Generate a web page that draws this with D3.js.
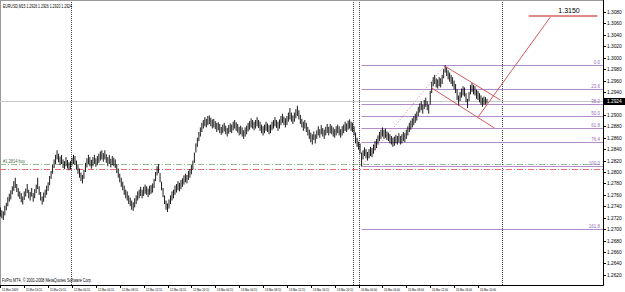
<!DOCTYPE html>
<html>
<head>
<meta charset="utf-8">
<script src="https://cdn.jsdelivr.net/npm/d3@7"></script>
<style>
  body { margin: 0; background: #fff; }
  svg { display: block; font-family: "Liberation Sans", Arial, sans-serif; }
</style>
</head>
<body>
<div id="chart"></div>
<script>
// EURUSD M15 bars, prices in points (1.2924 -> 12924), one array per trading day
const hiMar11 = [12738,12733,12731,12741,12746,12756,12762,12768,12775,12784,12790,12779,12772,12766,12763,12757,12766,12771,12779,12769,12765,12772,12763,12770,12778,12790,12775,12765,12757,12764,12769,12776,12782,12793,12802,12813,12822,12830,12838,12832,12827,12830,12822,12819,12826,12821,12817,12819];
const loMar11 = [12722,12719,12716,12724,12733,12740,12748,12752,12761,12767,12772,12765,12757,12753,12747,12743,12751,12757,12763,12754,12750,12757,12748,12754,12763,12770,12760,12750,12743,12748,12755,12760,12767,12777,12788,12797,12807,12814,12822,12817,12812,12814,12807,12805,12810,12806,12803,12805];
const hiMar12 = [12825,12830,12828,12820,12812,12806,12799,12795,12804,12816,12824,12830,12826,12821,12826,12830,12824,12828,12832,12836,12838,12833,12838,12831,12826,12830,12823,12828,12825,12822,12814,12806,12797,12790,12783,12776,12769,12766,12759,12755,12750,12747,12754,12759,12766,12769,12774,12769,12774,12778,12775,12771,12776,12777,12780,12788,12800,12810,12814,12798,12783,12772,12759,12750,12745,12752,12759,12766,12769,12776,12779,12784,12781,12786,12789,12794,12797,12795,12802,12805,12812,12820,12834,12850,12860,12870,12878,12886,12891,12896,12893,12898,12899,12895,12892,12893];
const loMar12 = [12811,12814,12812,12804,12797,12790,12784,12780,12788,12800,12808,12814,12810,12806,12810,12814,12809,12812,12816,12820,12822,12818,12822,12816,12810,12814,12808,12812,12810,12807,12798,12790,12782,12774,12768,12760,12754,12750,12744,12740,12734,12732,12738,12744,12750,12754,12758,12754,12758,12762,12760,12756,12760,12762,12764,12772,12784,12794,12798,12782,12768,12756,12744,12734,12730,12736,12744,12750,12754,12760,12764,12768,12766,12770,12774,12778,12782,12780,12786,12790,12796,12804,12816,12834,12844,12854,12862,12870,12876,12880,12878,12882,12884,12880,12876,12878];
const hiMar13 = [12889,12886,12887,12884,12879,12883,12886,12881,12877,12882,12885,12883,12888,12891,12887,12884,12879,12881,12878,12873,12878,12881,12886,12889,12894,12891,12888,12891,12896,12891,12888,12883,12880,12883,12888,12885,12882,12883,12888,12891,12896,12891,12888,12892,12898,12902,12897,12894,12898,12904,12912,12904,12899,12904,12910,12916,12908,12900,12893,12888,12891,12886,12879,12874,12869,12866,12871,12866,12873,12880,12875,12882,12877,12874,12879,12884,12879,12884,12881,12878,12875,12880,12883,12880,12875,12880,12883,12888,12885,12890,12892,12888,12886,12880,12869,12860];
const loMar13 = [12875,12870,12873,12868,12865,12868,12871,12866,12862,12867,12870,12868,12873,12876,12872,12869,12864,12866,12862,12858,12862,12866,12871,12874,12878,12876,12873,12876,12880,12877,12872,12868,12864,12868,12872,12870,12866,12868,12873,12876,12880,12877,12872,12876,12882,12886,12882,12878,12882,12888,12892,12888,12884,12888,12894,12898,12892,12884,12878,12872,12876,12870,12864,12858,12852,12848,12856,12850,12858,12864,12860,12866,12862,12858,12864,12868,12864,12868,12866,12862,12860,12864,12868,12864,12860,12864,12868,12872,12870,12874,12876,12872,12870,12864,12850,12844];
const hiMar16 = [12853,12850,12834,12838,12843,12840,12835,12840,12844,12842,12848,12854,12858,12864,12870,12874,12878,12874,12876,12871,12869,12866,12863,12860,12862,12865,12863,12868,12863,12866,12870,12868,12874,12880,12886,12890,12894,12898,12902,12906,12914,12920,12924,12918,12926,12930,12924,12918,12942,12958,12966,12970,12964,12962,12966,12964,12970,12980,12987,12984,12978,12974,12970,12966,12960,12954,12945,12934,12940,12946,12950,12948,12938,12928,12940,12952,12956,12952,12950,12944,12942,12938,12934,12930,12932,12931,12928];
const loMar16 = [12839,12832,12810,12822,12828,12824,12820,12824,12828,12826,12832,12838,12842,12848,12854,12858,12862,12858,12860,12856,12854,12850,12848,12844,12846,12850,12848,12852,12848,12850,12854,12852,12858,12864,12870,12874,12878,12882,12886,12890,12898,12904,12908,12902,12910,12914,12908,12902,12918,12938,12950,12954,12948,12946,12950,12948,12954,12964,12974,12968,12962,12958,12954,12950,12944,12938,12926,12916,12924,12930,12934,12932,12922,12912,12924,12936,12940,12936,12934,12928,12926,12922,12918,12914,12918,12918,12920];

const timeLabels = ["11 Mar 2009","11 Mar 16:15","11 Mar 20:15","12 Mar 00:15","12 Mar 04:15","12 Mar 08:15","12 Mar 12:15","12 Mar 16:15","12 Mar 20:15","13 Mar 00:15","13 Mar 04:15","13 Mar 08:15","13 Mar 12:15","13 Mar 16:15","13 Mar 20:15","16 Mar 00:00","16 Mar 04:00","16 Mar 08:00","16 Mar 12:00","16 Mar 16:00","16 Mar 20:00"];
const priceTicks = [13080,13060,13040,13020,13000,12980,12960,12940,12920,12900,12880,12860,12840,12820,12800,12780,12760,12740,12720,12700,12680,12660,12640,12620];
const fiboLevels = [0, 23.6, 38.2, 50, 61.8, 76.4, 100, 161.8];
const fiboAnchor = [{ bar: 242, price: 12810 }, { bar: 298, price: 12987 }];
const separatorBars = [47, 236, 240, 336];
const upperChannel = [{ bar: 298, price: 12985 }, { bar: 335, price: 12926 }];
const lowerChannel = [{ bar: 289, price: 12947 }, { bar: 331, price: 12877 }];
const targetLine = [{ bar: 320, price: 12896 }, { bar: 369, price: 13073 }];
const targetLevel = { from: 354, to: 400, price: 13073, label: "1.3150" };
const orderLines = [{ price: 12814, color: "#8fbf8f" }, { price: 12805, color: "#e07070" }];
const bidPrice = 12924;
const title = "EURUSD,M15  1.2926 1.2926 1.2920 1.2924";

const W = 625, H = 292;
const plot = { left: 0, right: 603, top: 2, bottom: 285 };
const barsPerLabel = 16;

const highs = [].concat(hiMar11, hiMar12, hiMar13, hiMar16);
const lows = [].concat(loMar11, loMar12, loMar13, loMar16);
const bars = highs.map((h, i) => ({ i, high: h, low: lows[i] }));

const x = d3.scaleLinear().domain([0, 400]).range([0.35, 0.35 + 400 * 1.4926]);
const y = d3.scaleLinear().domain([12602.25, 13097.5]).range([285, 2]);
const fmt = (p) => (p / 10000).toFixed(4);

const svg = d3.select("#chart").append("svg").attr("width", W).attr("height", H);

// window frame
svg.append("rect").attr("x", 0.5).attr("y", 0.5).attr("width", plot.right).attr("height", plot.bottom)
  .attr("fill", "none").attr("stroke", "#9a9a9a");

const g = svg.append("g");
svg.append("clipPath").attr("id", "plotclip").append("rect")
  .attr("x", plot.left).attr("y", plot.top).attr("width", plot.right - plot.left).attr("height", plot.bottom - plot.top);
g.attr("clip-path", "url(#plotclip)");

// bid line
g.append("line").attr("x1", plot.left).attr("x2", plot.right)
  .attr("y1", Math.round(y(bidPrice)) + 0.5).attr("y2", Math.round(y(bidPrice)) + 0.5)
  .attr("stroke", "#c8c8c8");

// order lines
orderLines.forEach((o) => {
  g.append("line").attr("x1", plot.left).attr("x2", plot.right)
    .attr("y1", Math.round(y(o.price)) + 0.5).attr("y2", Math.round(y(o.price)) + 0.5)
    .attr("stroke", o.color).attr("stroke-dasharray", "6,2,1,2");
});
g.append("text").attr("x", 3).attr("y", y(orderLines[0].price) - 1.5)
  .attr("font-size", 4.5).attr("textLength", 22).attr("lengthAdjust", "spacingAndGlyphs")
  .attr("fill", "#4a6a4a").text("#1.2814 buy");

// separators
separatorBars.forEach((b) => {
  g.append("line").attr("x1", Math.round(x(b)) + 0.5).attr("x2", Math.round(x(b)) + 0.5)
    .attr("y1", plot.top).attr("y2", plot.bottom)
    .attr("stroke", "#444").attr("stroke-dasharray", "1,1");
});

// fibonacci
const fHigh = fiboAnchor[1].price, fLow = fiboAnchor[0].price;
fiboLevels.forEach((lv) => {
  const p = fHigh - (lv / 100) * (fHigh - fLow);
  const yy = Math.round(y(p)) + 0.5;
  g.append("line").attr("x1", x(fiboAnchor[0].bar)).attr("x2", plot.right)
    .attr("y1", yy).attr("y2", yy).attr("stroke", "#b48ccc").attr("stroke-width", 1.2);
  g.append("text").attr("x", plot.right - 3).attr("y", yy - 1.5).attr("text-anchor", "end")
    .attr("font-size", 4.5).attr("fill", "#9a6ab4").text(lv.toFixed(1));
});
g.append("line")
  .attr("x1", x(fiboAnchor[0].bar)).attr("y1", y(fiboAnchor[0].price))
  .attr("x2", x(fiboAnchor[1].bar)).attr("y2", y(fiboAnchor[1].price))
  .attr("stroke", "#e08080").attr("stroke-dasharray", "1,2");

// bars
g.selectAll(".bar").data(bars).enter().append("line")
  .attr("class", "bar")
  .attr("x1", (d) => x(d.i)).attr("x2", (d) => x(d.i))
  .attr("y1", (d) => y(d.high)).attr("y2", (d) => y(d.low))
  .attr("stroke", "#000").attr("stroke-width", 0.9);

// channel and target
[upperChannel, lowerChannel, targetLine].forEach((seg) => {
  g.append("line")
    .attr("x1", x(seg[0].bar)).attr("y1", y(seg[0].price))
    .attr("x2", x(seg[1].bar)).attr("y2", y(seg[1].price))
    .attr("stroke", "#d25a5a").attr("stroke-width", 1);
});
g.append("line").attr("x1", x(targetLevel.from)).attr("x2", x(targetLevel.to))
  .attr("y1", y(targetLevel.price)).attr("y2", y(targetLevel.price))
  .attr("stroke", "#e08a8a").attr("stroke-width", 2);
g.append("text").attr("x", (x(targetLevel.from) + x(targetLevel.to)) / 2 + 6).attr("y", y(targetLevel.price) - 3)
  .attr("text-anchor", "middle").attr("font-size", 7).attr("fill", "#000").text(targetLevel.label);

// title and copyright
svg.append("text").attr("x", 3).attr("y", 8).attr("font-size", 5).attr("textLength", 69)
  .attr("lengthAdjust", "spacingAndGlyphs").attr("fill", "#000").text(title);
svg.append("text").attr("x", 2).attr("y", 282).attr("font-size", 4.5).attr("textLength", 90)
  .attr("lengthAdjust", "spacingAndGlyphs").attr("fill", "#000")
  .text("FxPro MT4, \u00a9 2001-2008 MetaQuotes Software Corp.");

// axes lines
svg.append("line").attr("x1", plot.right + 0.5).attr("x2", plot.right + 0.5).attr("y1", 0).attr("y2", plot.bottom + 0.5).attr("stroke", "#000");
svg.append("line").attr("x1", 0).attr("x2", plot.right + 0.5).attr("y1", plot.bottom + 0.5).attr("y2", plot.bottom + 0.5).attr("stroke", "#000");

// price axis
const by = Math.round(y(bidPrice));
priceTicks.forEach((p) => {
  const yy = Math.round(y(p)) + 0.5;
  svg.append("line").attr("x1", plot.right).attr("x2", plot.right + 3).attr("y1", yy).attr("y2", yy).attr("stroke", "#000");
  if (Math.abs(yy - by) < 7) return;
  svg.append("text").attr("x", plot.right + 4).attr("y", yy + 1.8).attr("font-size", 4.8).attr("fill", "#000").text(fmt(p));
});
svg.append("rect").attr("x", plot.right + 1).attr("y", by - 3).attr("width", 21).attr("height", 7).attr("fill", "#000");
svg.append("text").attr("x", plot.right + 4).attr("y", by + 2.3).attr("font-size", 4.8).attr("fill", "#fff").text(fmt(bidPrice));

// time axis
timeLabels.forEach((t, k) => {
  const xx = Math.round(x(k * barsPerLabel)) + 0.5;
  svg.append("line").attr("x1", xx).attr("x2", xx).attr("y1", plot.bottom).attr("y2", plot.bottom + 3).attr("stroke", "#000");
  svg.append("text").attr("x", xx + 1.5).attr("y", 290.5).attr("font-size", 4)
    .attr("textLength", 16).attr("lengthAdjust", "spacingAndGlyphs").attr("fill", "#000").text(t);
});
</script>
</body>
</html>
